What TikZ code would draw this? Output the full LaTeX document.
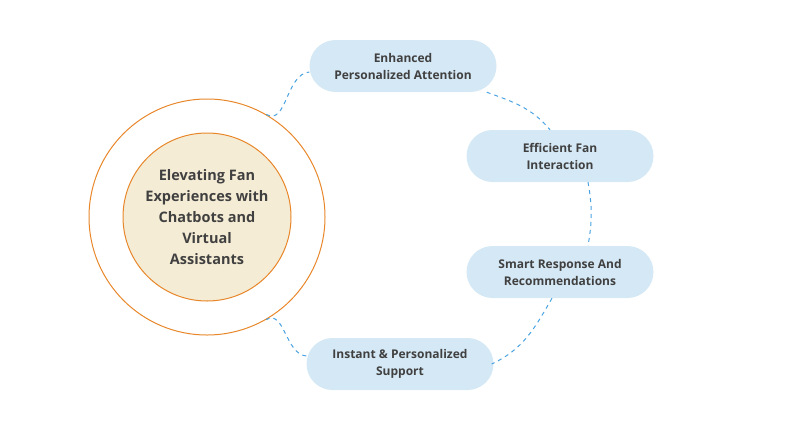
\documentclass[tikz,border=0pt]{standalone}
\usepackage{fontspec}
\setmainfont{Open Sans}
\usetikzlibrary{positioning}
\definecolor{ringorange}{HTML}{E8872A}
\definecolor{corebeige}{HTML}{F5ECD5}
\definecolor{pillblue}{HTML}{D5E8F5}
\definecolor{dashblue}{HTML}{4AA3E0}
\definecolor{textgray}{HTML}{404040}
\tikzset{
        pill/.style={rounded corners=26pt,fill=pillblue,minimum width=187pt,minimum height=52pt,
                     align=center,text=textgray,font=\fontsize{12}{17}\selectfont\bfseries},
        link/.style={dashblue,line width=1pt,dash pattern=on 4pt off 4pt},
        }
\begin{document}
\begin{tikzpicture}[x=1pt,y=-1pt]
			\useasboundingbox (0,0) rectangle (802,434);

			% rings.....................
			\node [circle,draw=ringorange,line width=1pt,minimum size=236pt] (ring) at (207,217) {};
			\node [circle,draw=ringorange,fill=corebeige,line width=1pt,minimum size=168pt,align=center,
			       text=textgray,font=\fontsize{14.5}{21}\selectfont\bfseries] (core) at (207,217)
			      {Elevating Fan\\Experiences with\\Chatbots and\\Virtual\\Assistants};

			% pills.....................
			\node [pill] (attention) at (403,66) {Enhanced\\Personalized Attention};
			\node [pill] (interaction) at (560,156) {Efficient Fan\\Interaction};
			\node [pill] (smart) at (560,272) {Smart Response And\\Recommendations};
			\node [pill] (support) at (400,364) {Instant \& Personalized\\Support};

			% dashed links..............
			\draw [link] (ring.60) to [out=-30,in=185] ([yshift=-6pt]attention.west);
			\draw [link] ([xshift=-10pt]attention.south east) to [out=-20,in=130] ([xshift=-10pt]interaction.north);
			\draw [link] ([xshift=28pt]interaction.south) to [out=-80,in=80] ([xshift=28pt]smart.north);
			\draw [link] ([xshift=-8pt]smart.south) to [out=-120,in=25] ([xshift=-2pt]support.east);
			\draw [link] ([yshift=8pt]support.west) to [out=175,in=30] (ring.-60);
		\end{tikzpicture}
\end{document}
